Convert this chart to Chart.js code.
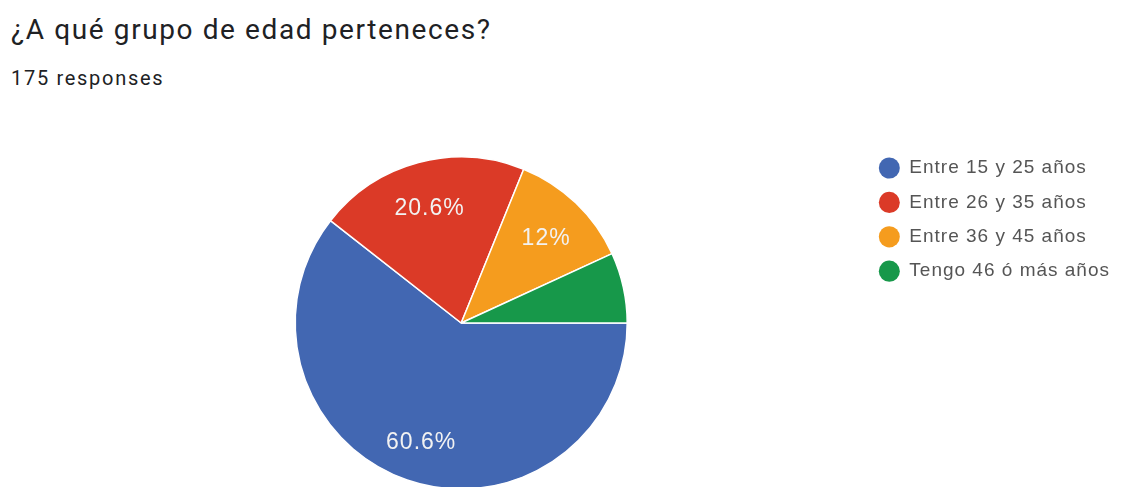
<!DOCTYPE html>
<html>
<head>
<meta charset="utf-8">
<script src="https://cdn.jsdelivr.net/npm/chart.js@4"></script>
<style>
  html, body { margin: 0; padding: 0; background: #fff; overflow: hidden; width: 1125px; height: 487px; }
  #title { position: absolute; left: 11px; top: 16px; font: 28px/28px Roboto, sans-serif; letter-spacing: 1.6px; color: #202124; white-space: nowrap; }
  #subtitle { position: absolute; left: 11px; top: 68px; font: 20px/20px Roboto, sans-serif; letter-spacing: 1.7px; color: #202124; white-space: nowrap; }
  #chart { position: absolute; left: 0; top: 0; }
</style>
</head>
<body>
<div id="title">¿A qué grupo de edad perteneces?</div>
<div id="subtitle">175 responses</div>
<canvas id="chart" width="1125" height="506"></canvas>
<script>
const categories = ["Entre 15 y 25 años", "Entre 26 y 35 años", "Entre 36 y 45 años", "Tengo 46 ó más años"];
const responses = [106, 36, 21, 12];
const sliceColors = ["#4267b2", "#db3a27", "#f59c1e", "#17984a"];

function formatPct(share) {
  return parseFloat(share.toFixed(1)) + "%";
}

// percentages inside the slices, like the Google Forms summary
const pctLabels = {
  id: "pctLabels",
  afterDatasetsDraw(chart) {
    const ctx = chart.ctx;
    const meta = chart.getDatasetMeta(0);
    const total = responses.reduce((a, b) => a + b, 0);
    ctx.save();
    ctx.font = '23px "Liberation Sans", Arial, sans-serif';
    ctx.fillStyle = "#f2f2f2";
    ctx.textAlign = "center";
    ctx.textBaseline = "middle";
    meta.data.forEach((arc, i) => {
      const share = (responses[i] / total) * 100;
      if (share < 10) return;
      const p = arc.getProps(["startAngle", "endAngle", "outerRadius", "x", "y"]);
      const mid = (p.startAngle + p.endAngle) / 2;
      const r = p.outerRadius * 0.74;
      // small nudge down so the digits sit visually centred
      ctx.fillText(formatPct(share), p.x + Math.cos(mid) * r, p.y + Math.sin(mid) * r + 4);
    });
    ctx.restore();
  },
};

const spacing = {
  id: "spacing",
  beforeLayout(chart) {
    chart.ctx.letterSpacing = "1px";
  },
};

const ctx = document.getElementById("chart").getContext("2d");

const ageChart = new Chart(ctx, {
  type: "pie",
  data: {
    labels: categories,
    datasets: [
      {
        data: responses,
        backgroundColor: sliceColors,
        borderColor: "#ffffff",
        borderWidth: 1.5,
        radius: 166,
      },
    ],
  },
  options: {
    responsive: false,
    devicePixelRatio: 1,
    animation: false,
    rotation: 90,
    layout: {
      padding: { top: 143.1, bottom: 3.1, left: 59, right: 5 },
    },
    plugins: {
      tooltip: { enabled: false },
      legend: {
        position: "right",
        align: "start",
        labels: {
          usePointStyle: true,
          pointStyle: "circle",
          boxHeight: 15,
          pointStyleWidth: 21,
          padding: 15.4,
          color: "#555555",
          font: { family: '"Liberation Sans", Arial, sans-serif', size: 19 },
          generateLabels: function (chart) {
            return Chart.overrides.doughnut.plugins.legend.labels
              .generateLabels(chart)
              .map((item) => Object.assign(item, { lineWidth: 0 }));
          },
        },
      },
    },
  },
  plugins: [spacing, pctLabels],
});
</script>
</body>
</html>
